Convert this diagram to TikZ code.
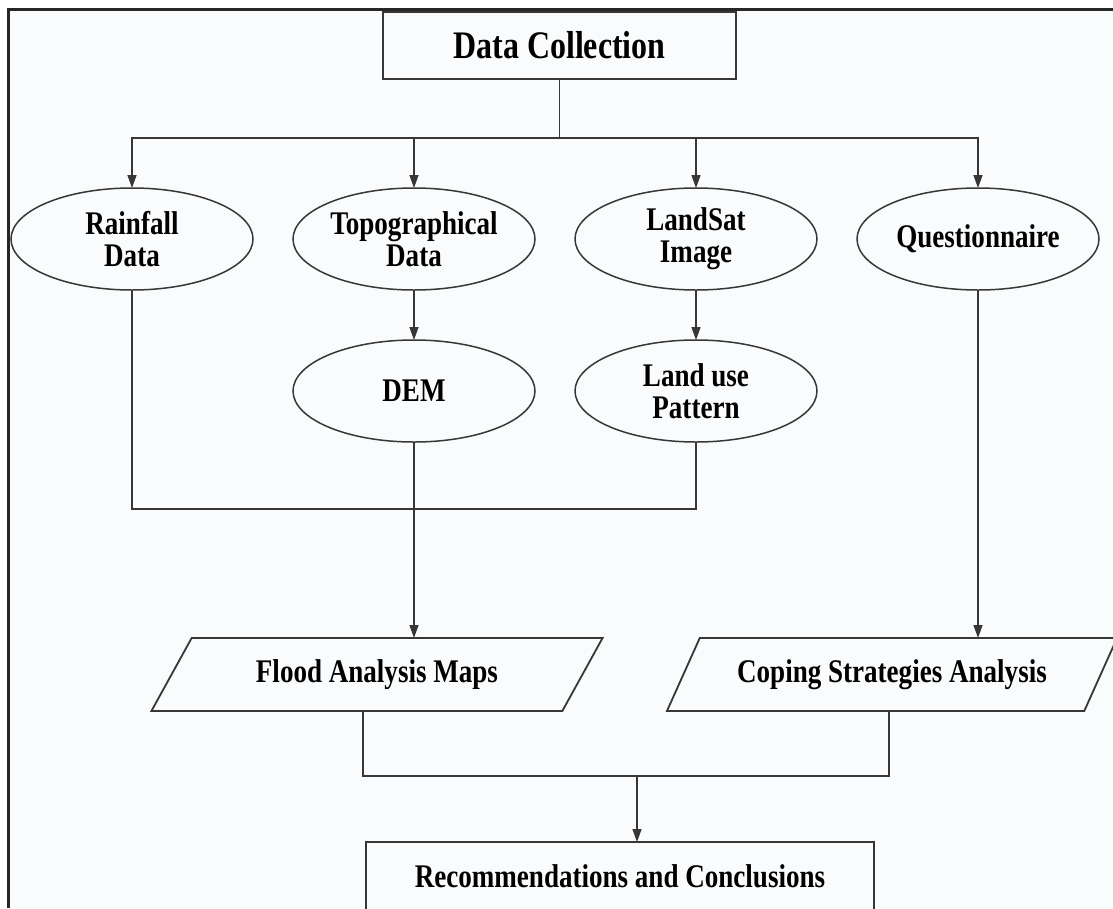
\documentclass[tikz,border=0pt]{standalone}
\usepackage{fontspec}
\newfontfamily\diagfont{Liberation Serif}[FakeStretch=0.82]
\usetikzlibrary{arrows.meta,shapes.geometric}
\definecolor{bgc}{RGB}{249,251,252}
\definecolor{linec}{RGB}{55,55,55}
\tikzset{
  conn/.style={draw=linec,line width=1.4pt},
  arr/.style={conn,-{Triangle[length=13pt,width=9pt]}},
  ell/.style={ellipse,draw=linec,line width=1.5pt,minimum width=242pt,minimum height=102pt,inner sep=0pt,outer sep=0pt,align=center,font=\diagfont\bfseries\fontsize{33}{32}\selectfont},
  boxn/.style={rectangle,draw=linec,line width=1.5pt,inner sep=0pt,outer sep=0pt,align=center},
  para/.style={trapezium,trapezium left angle=48.8,trapezium right angle=131.2,trapezium stretches=true,draw=linec,line width=1.8pt,minimum height=73pt,minimum width=452pt,inner sep=0pt,outer sep=0pt,font=\diagfont\bfseries\fontsize{33}{32}\selectfont}
}
\begin{document}
\begin{tikzpicture}[x=1pt,y=-1pt]
\useasboundingbox (0,0) rectangle (1113,908);
\fill[white] (0,0) rectangle (1113,908);
\fill[bgc] (8,9) rectangle (1113,908);
\draw[line width=3pt,black!85] (8,908) -- (8,9) -- (1113,9);

\node[boxn,minimum width=353pt,minimum height=67pt,font=\diagfont\bfseries\fontsize{39}{38}\selectfont] (dc) at (559.5,45.5) {Data Collection};

\node[ell] (rain) at (132,239) {Rainfall\\Data};
\node[ell] (topo) at (414,239) {Topographical\\Data};
\node[ell] (land) at (696,239) {LandSat\\Image};
\node[ell] (quest) at (978,239) {Questionnaire};
\node[ell] (dem) at (414,391) {DEM};
\node[ell] (lup) at (696,391) {Land use\\Pattern};

\node[para] (flood) at (377,674.5) {Flood Analysis Maps};
\node[para] (coping) at (892,674.5) {Coping Strategies Analysis};

\node[boxn,minimum width=508pt,minimum height=68pt,font=\diagfont\bfseries\fontsize{33}{32}\selectfont] (rec) at (620,876) {Recommendations and Conclusions};

\coordinate (split) at (559.5,138);
\coordinate (join1) at (414,509);
\coordinate (join2) at (637,776);

\draw[conn] (dc.south) -- (split);
\draw[arr] (split) -| (rain.north);
\draw[arr] (split) -| (topo.north);
\draw[arr] (split) -| (land.north);
\draw[arr] (split) -| (quest.north);

\draw[arr] (topo.south) -- (dem.north);
\draw[arr] (land.south) -- (lup.north);

\draw[conn] (rain.south) |- (join1);
\draw[conn] (lup.south) |- (join1);
\draw[arr] (dem.south) -- (dem.south |- flood.north);
\draw[arr] (quest.south) -- (quest.south |- coping.north);

\draw[conn] ([xshift=-14pt]flood.south) |- (join2);
\draw[conn] ([xshift=-3pt]coping.south) |- (join2);
\draw[arr] (join2) -- (join2 |- rec.north);
\end{tikzpicture}
\end{document}
